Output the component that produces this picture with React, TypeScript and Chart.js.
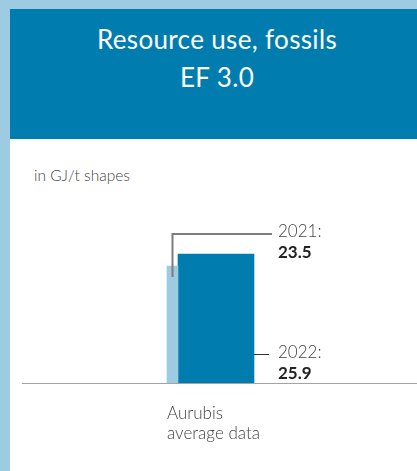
import React, { useEffect, useRef } from 'react';
import { Chart, registerables } from 'chart.js';

Chart.register(...registerables);

// ---- data ----
const categories: string[][] = [['Aurubis', 'average data']];
const seriesYears: string[] = ['2021', '2022'];
const values2021: number[] = [23.5];
const values2022: number[] = [25.9];
const valueLabels: string[] = ['23.5', '25.9'];
const titleLines: string[] = ['Resource use, fossils', 'EF 3.0'];
const unitLabel = 'in GJ/t shapes';

const DARK = '#007dae';
const LIGHT = '#9ccbe2';
const FONT = 'Lato, "Open Sans", "DejaVu Sans", sans-serif';

const notesPlugin = {
  id: 'barNotes',
  beforeDatasetsDraw(chart: any) {
    const ctx = chart.ctx;
    const y0 = Math.round(chart.scales.y.getPixelForValue(0)) + 0.5;
    ctx.save();
    ctx.strokeStyle = '#a3a3a3';
    ctx.lineWidth = 1;
    ctx.beginPath();
    ctx.moveTo(chart.chartArea.left, y0);
    ctx.lineTo(chart.width, y0);
    ctx.stroke();
    ctx.restore();
  },
  afterDatasetsDraw(chart: any) {
    const ctx = chart.ctx;
    const e0 = chart.getDatasetMeta(0).data[0];
    const e1 = chart.getDatasetMeta(1).data[0];
    if (!e0 || !e1) return;
    const p0 = e0.getProps(['x', 'y', 'width', 'base'], true);
    const p1 = e1.getProps(['x', 'y', 'width', 'base'], true);
    const right = p1.x + p1.width / 2;
    const textX = right + 24;
    ctx.save();
    // 2021 leader
    const y21 = Math.round(p0.y - 32);
    ctx.strokeStyle = '#7d7d7d';
    ctx.lineWidth = 2;
    ctx.beginPath();
    ctx.moveTo(p0.x, p0.y + 11);
    ctx.lineTo(p0.x, y21);
    ctx.lineTo(textX - 6, y21);
    ctx.stroke();
    // 2022 leader
    const y22 = Math.round(p1.base - 29) + 0.5;
    ctx.strokeStyle = '#333333';
    ctx.lineWidth = 1;
    ctx.beginPath();
    ctx.moveTo(right, y22);
    ctx.lineTo(textX - 9, y22);
    ctx.stroke();
    // texts
    ctx.textAlign = 'left';
    ctx.textBaseline = 'alphabetic';
    const drawNote = (yLine: number, year: string, val: string) => {
      ctx.fillStyle = '#444444';
      ctx.font = `300 17px ${FONT}`;
      ctx.fillText(year + ':', textX, yLine + 3);
      ctx.fillStyle = '#222222';
      ctx.font = `700 17px ${FONT}`;
      ctx.fillText(val, textX, yLine + 24);
    };
    drawNote(y21, seriesYears[0], valueLabels[0]);
    drawNote(y22, seriesYears[1], valueLabels[1]);
    ctx.restore();
  },
};

function BarChart() {
  const ref = useRef<HTMLCanvasElement | null>(null);
  useEffect(() => {
    if (!ref.current) return;
    const chart = new Chart(ref.current, {
      type: 'bar',
      data: {
        labels: categories,
        datasets: [
          {
            label: seriesYears[0],
            data: values2021,
            backgroundColor: LIGHT,
            barThickness: 11,
            borderWidth: 0,
          },
          {
            label: seriesYears[1],
            data: values2022,
            backgroundColor: DARK,
            barThickness: 76,
            borderWidth: 0,
          },
        ],
      },
      options: {
        responsive: false,
        animation: false,
        devicePixelRatio: 1,
        layout: { padding: { left: 12, right: 83, top: 94.6, bottom: 0 } },
        plugins: {
          legend: { display: false },
          tooltip: { enabled: false },
          title: { display: false },
        },
        scales: {
          x: {
            type: 'category',
            offset: true,
            grid: { display: false, drawTicks: false },
            border: { display: false },
            ticks: {
              align: 'start',
              labelOffset: -11,
              padding: 21,
              color: '#444444',
              font: { family: FONT, size: 17, weight: '300', lineHeight: '20px' },
              maxRotation: 0,
              autoSkip: false,
            },
            afterFit: (scale: any) => {
              scale.height = 88;
            },
          },
          y: {
            display: false,
            min: 0,
            max: 30,
          },
        },
      },
      plugins: [notesPlugin],
    } as any);
    return () => chart.destroy();
  }, []);
  return (
    <canvas
      ref={ref}
      width={407}
      height={332}
      style={{ position: 'absolute', left: 0, top: 0, width: 407, height: 332 }}
    />
  );
}

export default function App() {
  return (
    <div
      style={{
        position: 'absolute',
        left: 0,
        top: 0,
        width: 417,
        height: 471,
        background: LIGHT,
        fontFamily: FONT,
        overflow: 'hidden',
      }}
    >
      <div
        style={{
          position: 'absolute',
          left: 10,
          top: 9,
          width: 407,
          height: 130,
          background: DARK,
          color: '#ffffff',
          textAlign: 'center',
          fontSize: 26,
          letterSpacing: '0.35px',
          lineHeight: '38px',
          paddingTop: 11,
          paddingLeft: 7,
          boxSizing: 'border-box',
        }}
      >
        {titleLines.map((t) => (
          <div key={t}>{t}</div>
        ))}
      </div>
      <div
        style={{
          position: 'absolute',
          left: 10,
          top: 139,
          width: 407,
          height: 332,
          background: '#ffffff',
        }}
      >
        <div
          style={{
            position: 'absolute',
            left: 24,
            top: 29,
            fontSize: 15.5,
            fontWeight: 300,
            lineHeight: '15px',
            color: '#444444',
            whiteSpace: 'nowrap',
          }}
        >
          {unitLabel}
        </div>
        <BarChart />
      </div>
    </div>
  );
}
